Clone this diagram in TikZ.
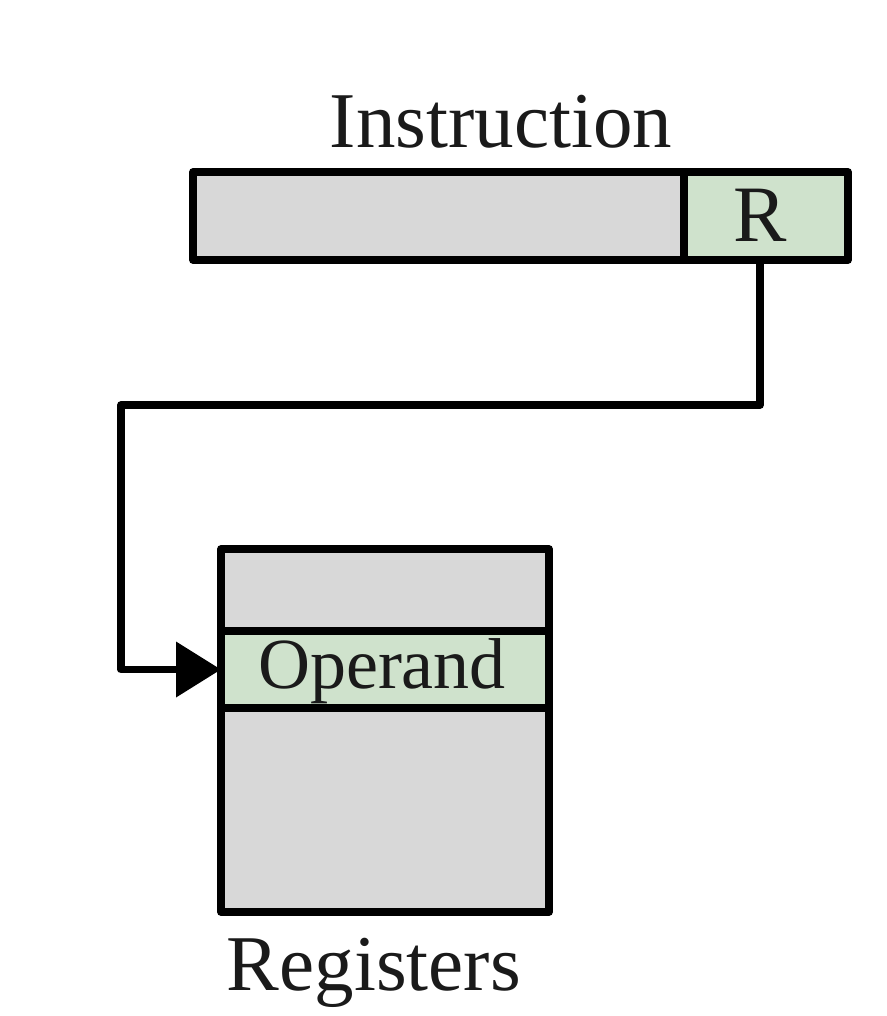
\documentclass[tikz,border=0pt]{standalone}
\usepackage{fontspec}
\setmainfont{Liberation Serif}
\usetikzlibrary{arrows.meta}
\definecolor{cellgray}{HTML}{D8D8D8}
\definecolor{cellgreen}{HTML}{CFE2CC}
\definecolor{txt}{HTML}{1A1A1A}
\begin{document}
\begin{tikzpicture}[x=1pt,y=-1pt,
  cell/.style={draw=black, line width=7.5pt, line join=round, inner sep=0pt, outer sep=0pt, anchor=north west},
  graycell/.style={cell, fill=cellgray},
  greencell/.style={cell, fill=cellgreen},
  lbl/.style={text=txt, inner sep=0pt, anchor=base},
  conn/.style={draw=black, line width=7.5pt, line join=round, -{Triangle[length=45pt,width=54pt]}}]
\useasboundingbox (0,0) rectangle (886,1016);
% instruction
\node[graycell, minimum width=491pt, minimum height=88pt] (opc) at (193,172) {};
\node[greencell, minimum width=164pt, minimum height=88pt] (R) at (684,172) {};
\node[lbl, font=\fontsize{80}{80}\selectfont] (Rt) at (760,241) {R};
\node[lbl, font=\fontsize{79}{79}\selectfont] (instr) at (501,148) {Instruction};
% registers
\node[graycell, minimum width=328pt, minimum height=363pt] (regs) at (221,549) {};
\node[greencell, minimum width=328pt, minimum height=77pt] (opr) at (221,631) {};
\node[lbl, font=\fontsize{72}{72}\selectfont] (oprt) at (382,688) {Operand};
\node[lbl, font=\fontsize{79}{79}\selectfont] (regt) at (374,990) {Registers};
% connector
\coordinate (bend) at (121,405);
\draw[conn] ([xshift=-6pt]R.south) |- (bend) |- (opr.west);
\end{tikzpicture}
\end{document}
